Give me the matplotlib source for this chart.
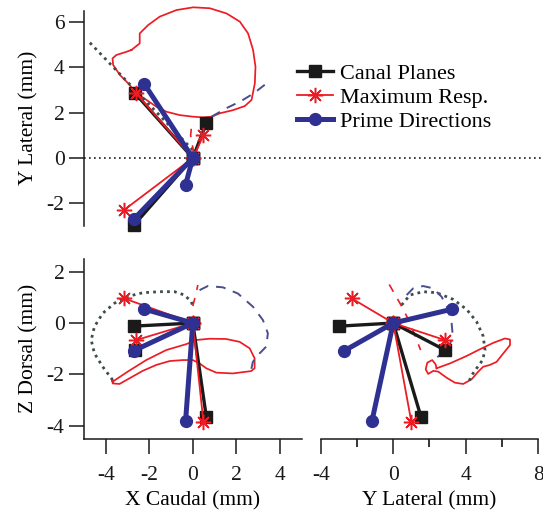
import numpy as np
import matplotlib
matplotlib.use("Agg")
import matplotlib.pyplot as plt

plt.rcParams['font.family'] = ['Liberation Serif', 'DejaVu Serif']
plt.rcParams['font.size'] = 15.5
plt.rcParams['axes.unicode_minus'] = False

# ---- vector end points (mm) : X caudal, Y lateral, Z dorsal ----
canal_x = [-2.72, -2.65, 0.62]
canal_y = [-2.97, 2.85, 1.53]
canal_z = [-0.12, -1.05, -3.65]

maxresp_x = [-3.16, -2.63, 0.49]
maxresp_y = [-2.29, 2.88, 1.00]
maxresp_z = [0.96, -0.67, -3.85]

prime_x = [-2.72, -2.22, -0.33]
prime_y = [-2.70, 3.25, -1.17]
prime_z = [-1.08, 0.54, -3.80]

labels = ["Canal Planes", "Maximum Resp.", "Prime Directions"]

# ---- traced response contours ----
# top panel (X vs Y)
resp_xy_x = [-2.82, -2.44, -2.44, -2.05, -1.52, -0.75, 0.02, 0.78, 1.55, 2.16, 2.54, 2.77, 2.88,
             2.85, 2.70, 2.39, 1.85, 1.24, 0.86, 0.47, 0.02, -0.60, -1.21, -1.67, -2.13, -2.59,
             -2.97, -3.35, -3.66, -3.69, -3.51, -3.05, -2.82]
resp_xy_y = [4.76, 5.05, 5.49, 5.86, 6.23, 6.52, 6.64, 6.60, 6.37, 6.01, 5.49, 4.76, 4.02,
             3.29, 2.56, 2.29, 2.11, 1.97, 1.82, 1.79, 1.82, 1.89, 2.04, 2.26, 2.56, 2.85,
             3.29, 3.66, 4.10, 4.39, 4.54, 4.68, 4.76]
gray_xy_x = [-4.73, -3.60, -2.50, -1.40, -0.40, 0.05]
gray_xy_y = [5.08, 3.95, 2.85, 1.75, 0.75, 0.30]
navy_xy_x = [0.86, 1.55, 2.20, 2.80, 3.39]
navy_xy_y = [1.82, 2.20, 2.50, 2.85, 3.29]
rdash_xy_x = [0.05, -0.10, -0.05]
rdash_xy_y = [0.20, 1.00, 1.50]

# bottom-left (X vs Z)
resp_xz_x = [-3.68, -2.99, -2.14, -1.22, -0.30, 0.16, 0.77, 1.53, 2.15, 2.61, 2.84, 2.84, 2.68,
             1.84, 1.08, 0.62, 0.31, 0.00, -0.46, -1.07, -1.68, -2.30, -2.91, -3.37, -3.68, -3.70, -3.68]
resp_xz_z = [-2.28, -1.89, -1.44, -1.05, -0.82, -0.66, -0.61, -0.62, -0.73, -0.98, -1.37, -1.76, -1.87,
             -1.96, -1.93, -1.76, -1.57, -1.44, -1.44, -1.48, -1.63, -1.86, -2.15, -2.37, -2.35, -2.22, -2.28]
gray_xz_x = [-3.68, -4.14, -4.52, -4.67, -4.52, -4.14, -3.60, -3.06, -2.30, -1.53, -0.84, -0.38, -0.07, 0.00]
gray_xz_z = [-2.22, -1.70, -1.18, -0.66, -0.14, 0.38, 0.77, 1.02, 1.18, 1.22, 1.22, 1.09, 0.83, 0.66]
navy_xz_x = [0.31, 0.69, 1.38, 2.07, 2.76, 3.22, 3.45, 3.37, 3.07, 2.76, 2.68]
navy_xz_z = [1.28, 1.44, 1.39, 1.15, 0.64, 0.12, -0.40, -0.92, -1.18, -1.51, -1.83]
rdash_xz_x = [0.00, 0.15, 0.23]
rdash_xz_z = [0.66, 1.15, 1.48]

# bottom-right (Y vs Z)
resp_yz_y = [2.39, 3.13, 4.05, 4.78, 5.52, 6.16, 6.44, 6.44, 6.07, 5.70, 5.33, 4.96, 4.69, 4.32,
             3.86, 3.40, 2.95, 2.48, 2.21, 1.93, 1.79, 1.88, 2.15, 2.34, 2.39]
resp_yz_z = [-1.76, -1.57, -1.28, -1.02, -0.77, -0.60, -0.64, -0.86, -1.18, -1.51, -1.63, -1.70, -1.89, -2.19,
             -2.37, -2.32, -2.13, -1.89, -1.86, -1.98, -1.80, -1.54, -1.44, -1.61, -1.76]
gray_yz_y = [0.46, 0.92, 1.65, 2.39, 3.31, 4.05, 4.60, 4.96, 5.06, 4.93, 4.60, 4.27, 4.19]
gray_yz_z = [0.70, 1.09, 1.22, 1.18, 0.92, 0.53, 0.05, -0.51, -1.05, -1.44, -1.76, -2.09, -2.28]
navy_yz_y = [0.74, 1.10, 1.65, 2.21, 2.67, 3.03, 3.22, 3.28, 3.09, 2.76, 2.43]
navy_yz_z = [1.09, 1.35, 1.44, 1.35, 1.02, 0.53, -0.01, -0.47, -0.92, -1.12, -1.33]
rdash_yz_y = [-0.22, 0.37, 0.90, 1.51]
rdash_yz_z = [1.50, 0.77, 0.05, -1.05]

RED = '#ed1c24'
BLUE = '#2e3192'
BLACK = '#1a1a1a'
GRAY = '#3d4d4b'
NAVY = '#4a4e8c'


def star(a, b):
    xs, ys = [], []
    for i in range(len(a)):
        xs += [0, a[i], np.nan]
        ys += [0, b[i], np.nan]
    return xs, ys


def draw(ax, cx, cy, mx, my, px, py, rx, ry, gx, gy, nx, ny, dx, dy):
    ax.plot(rx, ry, color=RED, lw=1.25, zorder=2, clip_on=False)
    ax.plot(gx, gy, color=GRAY, lw=2.0, ls=(0, (1, 1.5)), zorder=2, clip_on=False)
    ax.plot(nx, ny, color=NAVY, lw=1.4, ls=(0, (5, 4)), zorder=2, clip_on=False)
    ax.plot(dx, dy, color=RED, lw=1.2, ls=(0, (5, 5)), zorder=2, clip_on=False)
    h = []
    x, y = star(cx, cy)
    h += ax.plot(x, y, color=BLACK, lw=2.4, marker='s', ms=8, clip_on=False, zorder=3)
    x, y = star(mx, my)
    h += ax.plot(x, y, color=RED, lw=1.3, marker=(8, 2, 0), ms=11, mew=1.1, clip_on=False, zorder=4)
    x, y = star(px, py)
    h += ax.plot(x, y, color=BLUE, lw=3.6, marker='o', ms=8.5, clip_on=False, zorder=5)
    return h


fig = plt.figure(figsize=(5.43, 5.13), dpi=100)
W, H = 543.0, 513.0

ax1 = fig.add_axes([84 / W, (H - 226.1) / H, 457 / W, 215.6 / H])
ax2 = fig.add_axes([84 / W, (H - 438.7) / H, 217.6 / W, 179.9 / H])
ax3 = fig.add_axes([320.7 / W, (H - 438.7) / H, 217.6 / W, 179.9 / H])

for ax in (ax1, ax2, ax3):
    ax.set_facecolor('none')
    for s in ax.spines.values():
        s.set_linewidth(1.1)
        s.set_color('#1a1a1a')
    ax.tick_params(direction='out', length=11, width=1.1, pad=3, colors='#1a1a1a')
    ax.tick_params(which='minor', direction='out', length=6, width=1.1)
    ax.tick_params(axis='x', which='both', pad=8.5)

h = draw(ax1, canal_x, canal_y, maxresp_x, maxresp_y, prime_x, prime_y,
         resp_xy_x, resp_xy_y, gray_xy_x, gray_xy_y, navy_xy_x, navy_xy_y, rdash_xy_x, rdash_xy_y)
ax1.axhline(0, color='#1a1a1a', lw=1.2, ls=(0, (1, 2)), zorder=1)
ax1.set_xlim(-5, 16)
ax1.set_ylim(-3, 6.5)
ax1.set_yticks([-2, 0, 2, 4, 6])
ax1.set_xticks([])
for s in ('top', 'right', 'bottom'):
    ax1.spines[s].set_visible(False)
ax1.set_ylabel('Y Lateral (mm)', labelpad=6)

draw(ax2, canal_x, canal_z, maxresp_x, maxresp_z, prime_x, prime_z,
     resp_xz_x, resp_xz_z, gray_xz_x, gray_xz_z, navy_xz_x, navy_xz_z, rdash_xz_x, rdash_xz_z)
ax2.set_xlim(-5, 5)
ax2.set_ylim(-4.5, 2.5)
ax2.set_xticks([-4, -2, 0, 2, 4])
ax2.set_yticks([-4, -2, 0, 2])
for s in ('top', 'right'):
    ax2.spines[s].set_visible(False)
ax2.set_xlabel('X Caudal (mm)', labelpad=4.5)
ax2.set_ylabel('Z Dorsal (mm)', labelpad=6)

draw(ax3, canal_y, canal_z, maxresp_y, maxresp_z, prime_y, prime_z,
     resp_yz_y, resp_yz_z, gray_yz_y, gray_yz_z, navy_yz_y, navy_yz_z, rdash_yz_y, rdash_yz_z)
ax3.set_xlim(-4, 8)
ax3.set_ylim(-4.5, 2.5)
ax3.set_xticks([-4, 0, 4, 8])
ax3.set_xticks([-2, 2, 6], minor=True)
ax3.set_yticks([])
for s in ('top', 'right', 'left'):
    ax3.spines[s].set_visible(False)
ax3.set_xlabel('Y Lateral (mm)', labelpad=4.5)

fig.legend(h, labels, loc='upper left', bbox_to_anchor=(297 / W, (H - 63) / H),
           frameon=False, numpoints=1, handlelength=1.6, handletextpad=0.35,
           labelspacing=0.16, borderpad=0, borderaxespad=0, fontsize=16)

fig.savefig('out.png', dpi=100)
